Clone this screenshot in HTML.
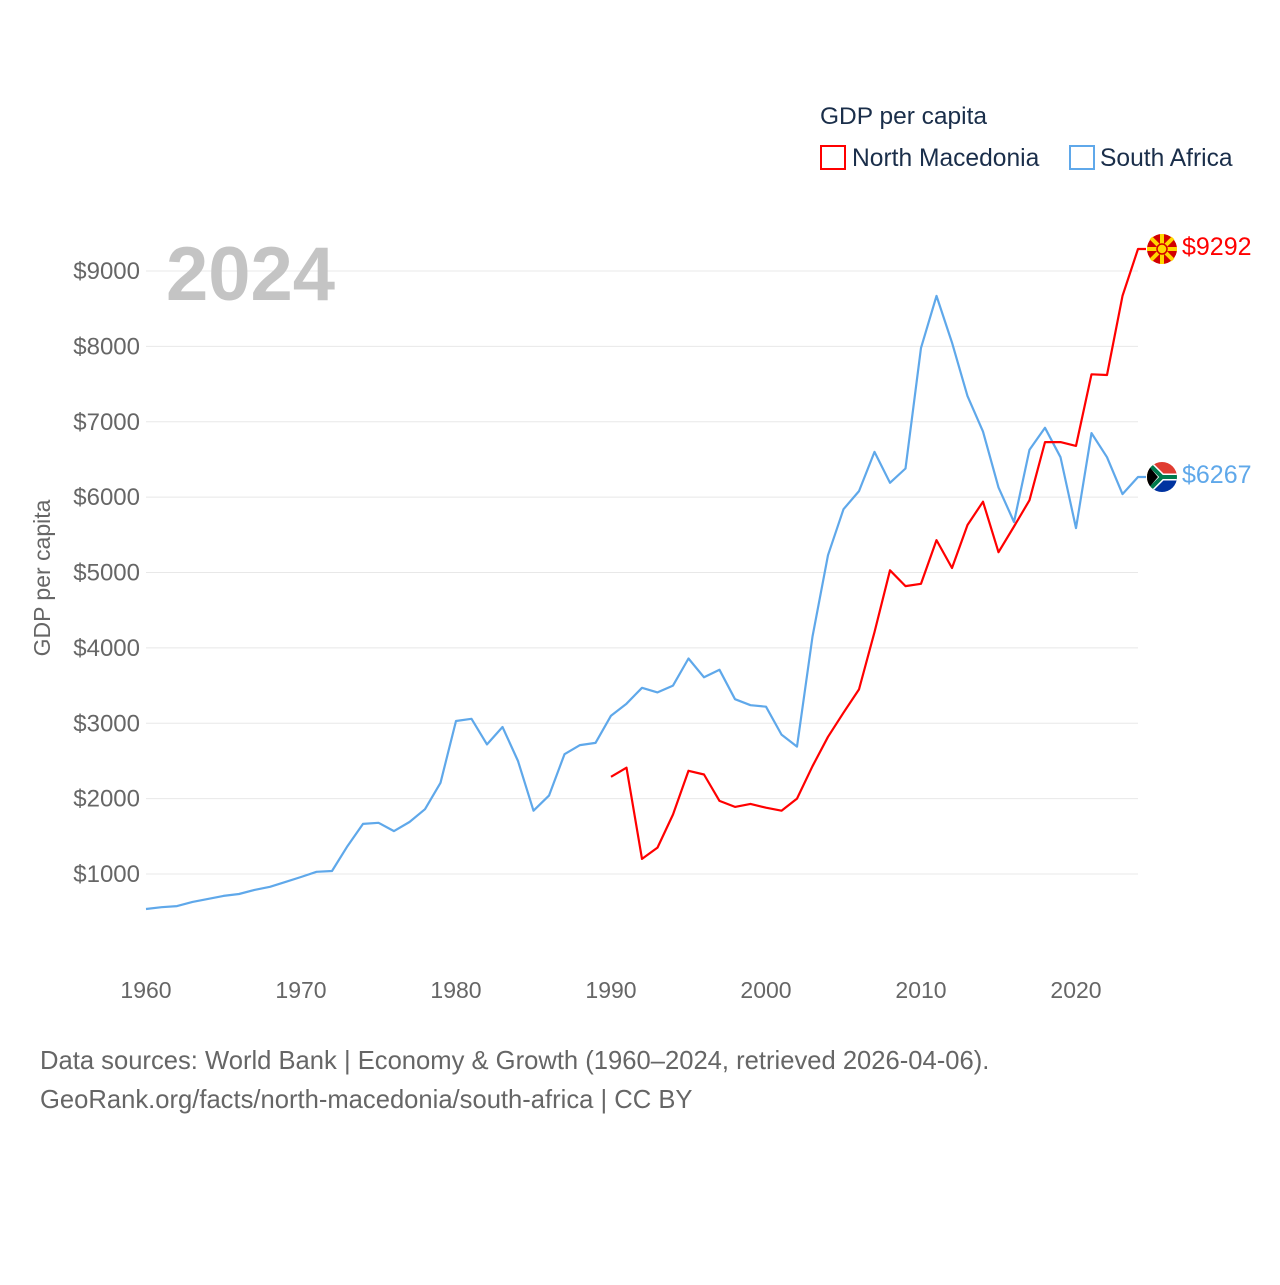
<!DOCTYPE html>
<html><head><meta charset="utf-8"><style>
html,body{margin:0;padding:0;background:#fff;}
svg text{font-family:"Liberation Sans",sans-serif;}
</style></head><body>
<svg id="chart" width="1280" height="1280" xmlns="http://www.w3.org/2000/svg">
<g id="grid"></g>
<g id="yticks"></g>
<g id="xticks"></g>
<text x="166" y="300" font-size="76" font-weight="bold" fill="#c4c4c4">2024</text>
<text transform="translate(50,578) rotate(-90)" text-anchor="middle" font-size="23" fill="#666">GDP per capita</text>
<g>
<text x="820" y="124" font-size="24.5" fill="#1a2e4a">GDP per capita</text>
<rect x="821" y="146" width="24" height="23" fill="none" stroke="#f00" stroke-width="2"/>
<text x="852" y="166" font-size="24.6" fill="#1a2e4a">North Macedonia</text>
<rect x="1070" y="146" width="24" height="23" fill="none" stroke="#5fa8ea" stroke-width="2"/>
<text x="1100" y="166" font-size="24.6" fill="#1a2e4a">South Africa</text>
</g>
<g id="series"></g>
<g>
<circle cx="1162" cy="249" r="15" fill="#d20000"/>
<g stroke="#ffd600" stroke-width="4">
<line x1="1162" y1="234" x2="1162" y2="264"/><line x1="1147" y1="249" x2="1177" y2="249"/>
<line x1="1151" y1="238" x2="1173" y2="260"/><line x1="1173" y1="238" x2="1151" y2="260"/>
</g>
<circle cx="1162" cy="249" r="5" fill="#ffd600" stroke="#d20000" stroke-width="1.5"/>
</g>
<g>
<clipPath id="zc"><circle cx="1162" cy="477" r="15"/></clipPath>
<g clip-path="url(#zc)">
<rect x="1147" y="462" width="30" height="15" fill="#e03c31"/>
<rect x="1147" y="477" width="30" height="15" fill="#0033a0"/>
<path d="M1147,462 L1162,477 L1147,492 Z" fill="#000" stroke="#ffb81c" stroke-width="3"/>
<path d="M1147,462 L1162,477 L1177,477 M1147,492 L1162,477" stroke="#fff" stroke-width="7" fill="none"/>
<path d="M1147,462 L1162,477 L1177,477 M1147,492 L1162,477" stroke="#007a4d" stroke-width="4" fill="none"/>
<path d="M1147,464 L1158,477 L1147,490 Z" fill="#000"/>
</g>
</g>
<text x="1182" y="255" font-size="25" fill="#f00">$9292</text>
<text x="1182" y="483" font-size="25" fill="#5fa8ea">$6267</text>
<text x="40" y="1069" font-size="25.6" fill="#666">Data sources: World Bank | Economy &amp; Growth (1960–2024, retrieved 2026-04-06).</text>
<text x="40" y="1108" font-size="25.6" fill="#666">GeoRank.org/facts/north-macedonia/south-africa | CC BY</text>
</svg>
<script>
const yTicks=[1000,2000,3000,4000,5000,6000,7000,8000,9000];
const xTicks=[1960,1970,1980,1990,2000,2010,2020];
const saYears=[1960,1961,1962,1963,1964,1965,1966,1967,1968,1969,1970,1971,1972,1973,1974,1975,1976,1977,1978,1979,1980,1981,1982,1983,1984,1985,1986,1987,1988,1989,1990,1991,1992,1993,1994,1995,1996,1997,1998,1999,2000,2001,2002,2003,2004,2005,2006,2007,2008,2009,2010,2011,2012,2013,2014,2015,2016,2017,2018,2019,2020,2021,2022,2023,2024];
const saValues=[536,560,575,630,670,710,735,790,830,895,960,1030,1040,1370,1665,1680,1570,1690,1860,2210,3030,3060,2720,2950,2500,1840,2040,2590,2710,2740,3100,3260,3470,3410,3500,3860,3610,3710,3320,3240,3220,2850,2690,4150,5230,5840,6080,6600,6190,6380,7980,8670,8050,7340,6870,6130,5670,6630,6920,6530,5590,6850,6530,6040,6267];
const mkYears=[1990,1991,1992,1993,1994,1995,1996,1997,1998,1999,2000,2001,2002,2003,2004,2005,2006,2007,2008,2009,2010,2011,2012,2013,2014,2015,2016,2017,2018,2019,2020,2021,2022,2023,2024];
const mkValues=[2290,2410,1200,1350,1790,2370,2320,1970,1890,1930,1880,1840,2000,2430,2820,3140,3450,4210,5030,4820,4850,5430,5060,5630,5940,5270,5610,5960,6730,6730,6680,7630,7620,8670,9292];
const NS="http://www.w3.org/2000/svg";
function xs(y){return 146+(y-1960)*15.5;}
function ys(v){return 949.4-v*0.075375;}
const grid=document.getElementById('grid'),yt=document.getElementById('yticks'),xt=document.getElementById('xticks'),ser=document.getElementById('series');
yTicks.forEach(v=>{
 const l=document.createElementNS(NS,'line');
 
 
 l.setAttribute('x1',146);l.setAttribute('x2',1138);l.setAttribute('y1',ys(v));l.setAttribute('y2',ys(v));
 l.setAttribute('stroke','#e8e8e8');l.setAttribute('stroke-width','1');grid.appendChild(l);
 const t=document.createElementNS(NS,'text');
 
 
 t.setAttribute('x',140);t.setAttribute('y',ys(v)+8);t.setAttribute('text-anchor','end');
 t.setAttribute('font-size','24');t.setAttribute('fill','#666');t.textContent='$'+v;yt.appendChild(t);
});
xTicks.forEach(v=>{
 const t=document.createElementNS(NS,'text');
 
 
 t.setAttribute('x',xs(v));t.setAttribute('y',998);t.setAttribute('text-anchor','middle');
 t.setAttribute('font-size','23');t.setAttribute('fill','#666');t.textContent=v;xt.appendChild(t);
});
function line(yrs,vals,color,name){
 let d=yrs.map((y,i)=>(i?'L':'M')+xs(y).toFixed(1)+','+ys(vals[i]).toFixed(1)).join(' ');
 d+=' L'+(xs(yrs[yrs.length-1])+8).toFixed(1)+','+ys(vals[vals.length-1]).toFixed(1);
 const p=document.createElementNS(NS,'path');
 
 
 p.setAttribute('d',d);p.setAttribute('fill','none');p.setAttribute('stroke',color);p.setAttribute('stroke-width','2.2');
 p.setAttribute('stroke-linejoin','round');ser.appendChild(p);
}
line(saYears,saValues,'#5fa8ea','line-south-africa');
line(mkYears,mkValues,'#f00','line-north-macedonia');
</script>
</body></html>
